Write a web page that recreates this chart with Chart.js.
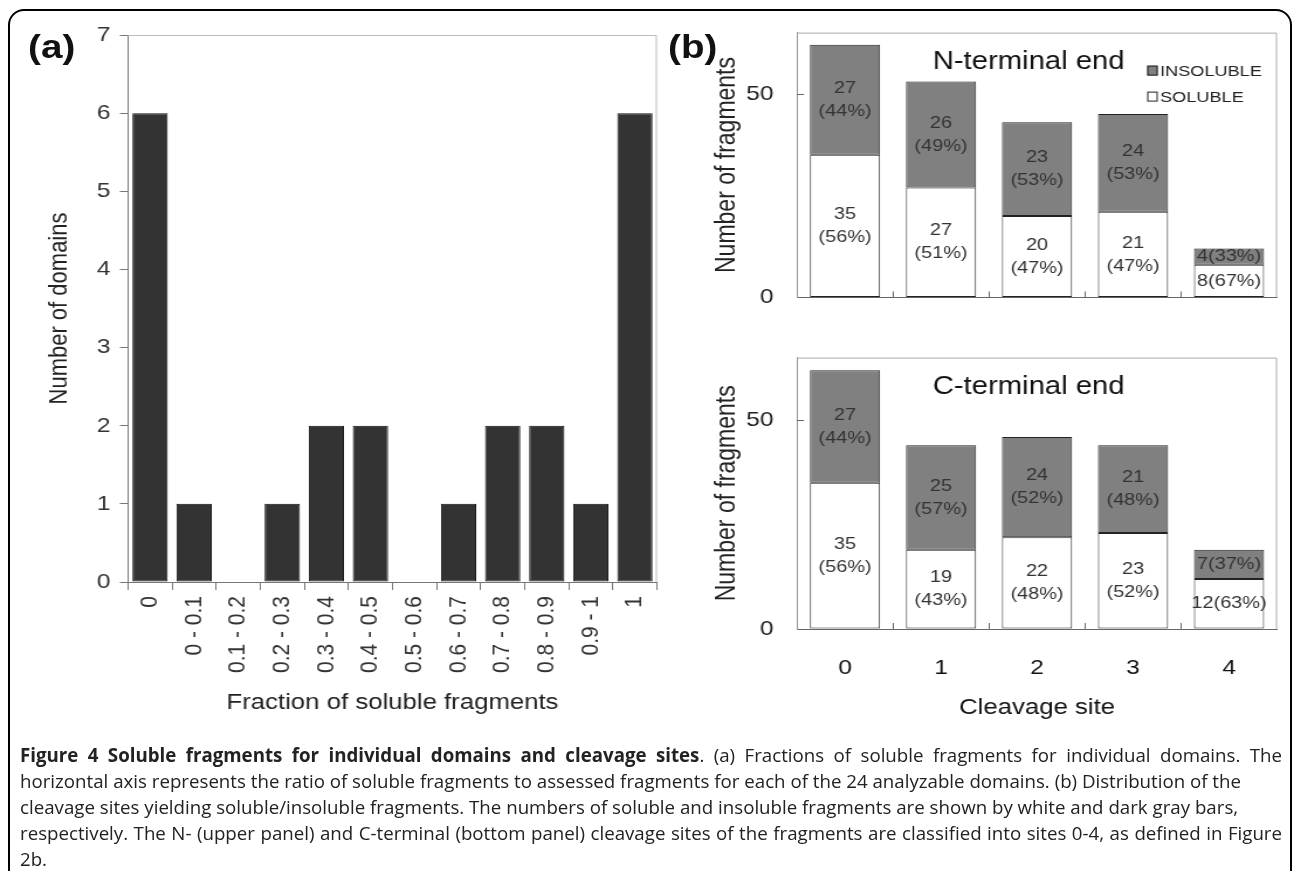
<!DOCTYPE html>
<html>
<head>
<meta charset="utf-8">
<script src="https://cdn.jsdelivr.net/npm/chart.js@4.4.1/dist/chart.umd.min.js"></script>
<style>
  html, body { margin: 0; padding: 0; background: #fff; overflow: hidden; }
  body { width: 1292px; height: 871px; position: relative; }
  #frame { position: absolute; left: 8px; top: 9px; width: 1284px; height: 920px;
           border: 2px solid #000; border-radius: 16px; box-sizing: border-box; }
  /* the original figure is stretched sideways, so the chart block is drawn narrow and scaled */
  #fig { position: absolute; left: 0; top: 0; width: 1105px; height: 745px;
         transform: scaleX(1.17); transform-origin: 0 0; }
  #fig canvas { position: absolute; }
  .tag { position: absolute; font: bold 33px "Liberation Sans", Arial, sans-serif; color: #111; line-height: 33px; }
  #caption { position: absolute; left: 20px; top: 742px; width: 1262px;
             font: 18.7px/26px "Open Sans", "Noto Sans", sans-serif; color: #222; }
  #caption div { white-space: nowrap; }
  #caption .j { text-align: justify; text-align-last: justify; }
  #caption b { font-weight: 700; }
</style>
</head>
<body>
<div id="frame"></div>
<div id="fig">
  <div class="tag" style="left:24px; top:30px">(a)</div>
  <div class="tag" style="left:571px; top:30px">(b)</div>
  <canvas id="chartA" width="598" height="745" style="left:0; top:0"></canvas>
  <canvas id="chartN" width="557" height="330" style="left:547px; top:0"></canvas>
  <canvas id="chartC" width="557" height="420" style="left:547px; top:325px"></canvas>
</div>
<div id="caption">
  <div class="j"><b>Figure 4 Soluble fragments for individual domains and cleavage sites</b>. (a) Fractions of soluble fragments for individual domains. The</div>
  <div>horizontal axis represents the ratio of soluble fragments to assessed fragments for each of the 24 analyzable domains. (b) Distribution of the</div>
  <div>cleavage sites yielding soluble/insoluble fragments. The numbers of soluble and insoluble fragments are shown by white and dark gray bars,</div>
  <div class="j">respectively. The N- (upper panel) and C-terminal (bottom panel) cleavage sites of the fragments are classified into sites 0-4, as defined in Figure</div>
  <div>2b.</div>
</div>

<script>
// (a) domains per fraction of soluble fragments
const fracLabels = ['0', '0 - 0.1', '0.1 - 0.2', '0.2 - 0.3', '0.3 - 0.4', '0.4 - 0.5',
                    '0.5 - 0.6', '0.6 - 0.7', '0.7 - 0.8', '0.8 - 0.9', '0.9 - 1', '1'];
const domainCounts = [6, 1, 0, 1, 2, 2, 0, 1, 2, 2, 1, 6];
const domainTicks = [0, 1, 2, 3, 4, 5, 6, 7];

// (b) fragments per cleavage site
const sites = ['0', '1', '2', '3', '4'];
const nSoluble = [35, 27, 20, 21, 8];
const nInsoluble = [27, 26, 23, 24, 4];
const nSolublePct = [56, 51, 47, 47, 67];
const nInsolublePct = [44, 49, 53, 53, 33];
const cSoluble = [35, 19, 22, 23, 12];
const cInsoluble = [27, 25, 24, 21, 7];
const cSolublePct = [56, 43, 48, 52, 63];
const cInsolublePct = [44, 57, 52, 48, 37];
const fragTicks = [0, 50];

Chart.defaults.font.family = '"Liberation Sans", Arial, sans-serif';
Chart.defaults.color = '#333';

// light box round the plot area
const frameBox = {
  id: 'frameBox',
  beforeDatasetsDraw(chart, args, opts) {
    const { left, right, top, bottom } = chart.chartArea;
    const ctx = chart.ctx;
    ctx.save();
    ctx.strokeStyle = opts.color || '#aaa';
    ctx.lineWidth = 1;
    ctx.beginPath();
    ctx.moveTo(left, top + 0.5);
    ctx.lineTo(right - 0.5, top + 0.5);
    ctx.lineTo(right - 0.5, bottom);
    ctx.stroke();
    ctx.restore();
  }
};

// count (percent) written in the middle of each segment
const segLabels = {
  id: 'segLabels',
  afterDatasetsDraw(chart) {
    const ctx = chart.ctx;
    ctx.save();
    ctx.font = '17px "Liberation Sans", Arial, sans-serif';
    ctx.fillStyle = '#333';
    ctx.textAlign = 'center';
    ctx.textBaseline = 'middle';
    chart.data.datasets.forEach((ds, di) => {
      chart.getDatasetMeta(di).data.forEach((bar, i) => {
        const h = Math.abs(bar.base - bar.y);
        const lines = h < 60 ? [ds.data[i] + '(' + ds.pct[i] + '%)'] : [String(ds.data[i]), '(' + ds.pct[i] + '%)'];
        const cy = (bar.y + bar.base) / 2;
        lines.forEach((t, k) => ctx.fillText(t, bar.x, cy + (k - (lines.length - 1) / 2) * 23));
      });
    });
    ctx.restore();
  }
};

// small ticks pointing into the plot
const innerTicks = {
  id: 'innerTicks',
  afterDatasetsDraw(chart) {
    const { ctx, chartArea, scales } = chart;
    ctx.save();
    ctx.strokeStyle = '#666';
    ctx.lineWidth = 1;
    ctx.beginPath();
    for (let i = 1; i < chart.data.labels.length; i++) {
      const px = Math.round((scales.x.getPixelForValue(i - 1) + scales.x.getPixelForValue(i)) / 2) + 0.5;
      ctx.moveTo(px, chartArea.bottom);
      ctx.lineTo(px, chartArea.bottom - 6);
    }
    fragTicks.forEach(v => {
      if (v === 0) return;
      const py = Math.round(scales.y.getPixelForValue(v)) + 0.5;
      ctx.moveTo(chartArea.left, py);
      ctx.lineTo(chartArea.left + 6, py);
    });
    ctx.stroke();
    ctx.restore();
  }
};

const panelText = {
  id: 'panelText',
  afterDraw(chart, args, opts) {
    if (!opts.title) return;
    const ctx = chart.ctx;
    const { left, right, top } = chart.chartArea;
    ctx.save();
    ctx.fillStyle = '#111';
    ctx.font = '25px "Liberation Sans", Arial, sans-serif';
    ctx.textAlign = 'center';
    ctx.textBaseline = 'alphabetic';
    ctx.fillText(opts.title, left + 198, top + 36);
    if (opts.legend) {
      // legend: insoluble first, like the original
      ctx.font = '15.5px "Liberation Sans", Arial, sans-serif';
      ctx.textAlign = 'left';
      ctx.textBaseline = 'middle';
      chart.data.datasets.slice().reverse().forEach((ds, k) => {
        const x = right - 111, y = top + 38 + k * 26;
        ctx.fillStyle = ds.backgroundColor;
        ctx.fillRect(x, y - 5, 9, 10);
        ctx.strokeStyle = '#222';
        ctx.lineWidth = 1;
        ctx.strokeRect(x + 0.5, y - 4.5, 8, 9);
        ctx.fillStyle = '#222';
        ctx.fillText(ds.label, x + 11, y + 1);
      });
    }
    ctx.restore();
  }
};

new Chart(document.getElementById('chartA'), {
  type: 'bar',
  data: {
    labels: fracLabels,
    datasets: [{
      data: domainCounts,
      backgroundColor: '#333333',
      borderColor: '#111',
      borderWidth: 1,
      borderSkipped: false,
      barPercentage: 0.8,
      categoryPercentage: 1
    }]
  },
  options: {
    responsive: false,
    animation: false,
    layout: { padding: { left: 0, top: 35, right: 36.5, bottom: 0 } },
    plugins: { legend: { display: false }, tooltip: { enabled: false }, frameBox: { color: '#bbb' } },
    scales: {
      x: {
        grid: { drawOnChartArea: false, tickLength: 8, color: '#777' },
        border: { color: '#777' },
        ticks: { autoSkip: false, minRotation: 90, maxRotation: 90, padding: 6, font: { size: 21 } },
        title: { display: true, text: 'Fraction of soluble fragments', color: '#222', font: { size: 22 }, padding: { top: 0, bottom: 29 } },
        afterFit: s => { s.height = 163; }
      },
      y: {
        min: 0,
        max: 7,
        afterBuildTicks: s => { s.ticks = domainTicks.map(v => ({ value: v })); },
        grid: { drawOnChartArea: false, tickLength: 7, color: '#777' },
        border: { color: '#777' },
        ticks: { padding: 8, font: { size: 21 } },
        title: { display: true, text: 'Number of domains', color: '#222', font: { size: 22 }, padding: { top: 38, bottom: 0 } },
        afterFit: s => { s.width = 109.4; }
      }
    }
  },
  plugins: [frameBox]
});

function siteChart(id, sol, insol, solPct, insolPct, title, opts) {
  return new Chart(document.getElementById(id), {
    type: 'bar',
    data: {
      labels: sites,
      datasets: [
        { label: 'SOLUBLE', data: sol, pct: solPct, backgroundColor: '#ffffff', borderColor: '#222',
          borderWidth: 1, borderSkipped: false, barPercentage: 0.73, categoryPercentage: 1 },
        { label: 'INSOLUBLE', data: insol, pct: insolPct, backgroundColor: '#808080', borderColor: '#222',
          borderWidth: 1, borderSkipped: false, barPercentage: 0.73, categoryPercentage: 1 }
      ]
    },
    options: {
      responsive: false,
      animation: false,
      layout: { padding: { left: 0, top: opts.top, right: 12.5, bottom: 0 } },
      plugins: {
        legend: { display: false },
        tooltip: { enabled: false },
        frameBox: { color: '#aaa' },
        panelText: { title: title, legend: opts.legend }
      },
      scales: {
        x: {
          stacked: true,
          grid: { drawOnChartArea: false, drawTicks: false },
          border: { color: '#666' },
          ticks: { display: opts.showX, padding: 27, color: '#111', font: { size: 21 } },
          title: { display: opts.showX, text: 'Cleavage site', color: '#111', font: { size: 22 }, padding: { top: 0, bottom: 24 } },
          afterFit: s => { s.height = opts.xHeight; }
        },
        y: {
          stacked: true,
          min: 0,
          max: 65,
          afterBuildTicks: s => { s.ticks = fragTicks.map(v => ({ value: v })); },
          grid: { drawOnChartArea: false, drawTicks: false },
          border: { color: '#999' },
          ticks: { padding: 20, color: '#222', font: { size: 21 } },
          title: { display: true, text: 'Number of fragments', color: '#222', font: { size: 23 }, padding: { top: 60.6, bottom: 0 } },
          afterFit: s => { s.width = 134.2; }
        }
      }
    },
    plugins: [frameBox, segLabels, innerTicks, panelText]
  });
}

siteChart('chartN', nSoluble, nInsoluble, nSolublePct, nInsolublePct, 'N-terminal end',
          { top: 26, xHeight: 14, showX: false, legend: true });
siteChart('chartC', cSoluble, cInsoluble, cSolublePct, cInsolublePct, 'C-terminal end',
          { top: 13, xHeight: 116, showX: true, legend: false });
</script>
</body>
</html>
